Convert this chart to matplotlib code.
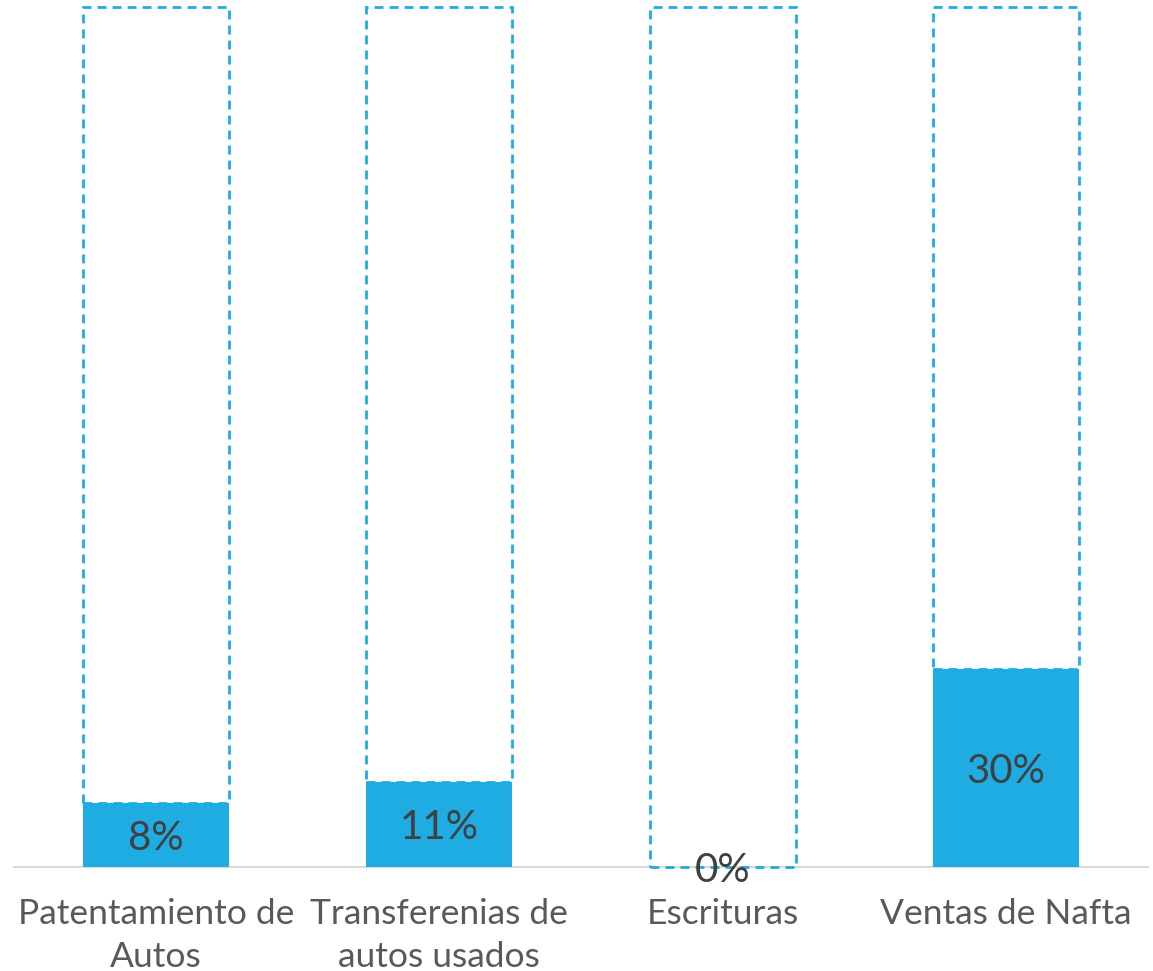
import matplotlib
matplotlib.use("Agg")
import matplotlib.pyplot as plt

categories = ["Patentamiento de\nAutos", "Transferenias de\nautos usados", "Escrituras", "Ventas de Nafta"]
fill_heights = [7.4, 9.9, 0.0, 23.0]   # filled portion, read as share of the dashed box
value_labels = ["8%", "11%", "0%", "30%"]
box_total = 100.0

blue = "#1EACE3"
fig = plt.figure(figsize=(11.53, 9.71), dpi=100)
ax = fig.add_axes([14/1153, 1 - 867/971, 1134/1153, 860/971])

x = list(range(len(categories)))
rest = [box_total - h for h in fill_heights]
ax.bar(x, fill_heights, width=0.515, color=blue, edgecolor="none", zorder=2)
ax.bar(x, rest, bottom=fill_heights, width=0.515, facecolor="none",
       edgecolor=blue, linestyle=(0, (3.2, 2.2)), linewidth=2, zorder=3, clip_on=False)

for xi, h, lab in zip(x, fill_heights, value_labels):
    ax.text(xi, h / 2 - 0.35, lab, ha="center", va="center", fontsize=29,
            color="#404040", family="Lato", zorder=4)

ax.set_xlim(-0.5, len(categories) - 0.5)
ax.set_ylim(0, box_total)
ax.set_yticks([])
ax.set_xticks(x)
ax.set_xticklabels(categories, fontsize=25.5, color="#595959", family="Lato", linespacing=1.45)
ax.tick_params(axis="x", length=0, pad=22)
for s in ["top", "right", "left"]:
    ax.spines[s].set_visible(False)
ax.spines["bottom"].set_color("#D9D9D9")
ax.spines["bottom"].set_linewidth(1.5)
ax.spines["bottom"].set_zorder(1)

fig.savefig("out.png", dpi=100)
